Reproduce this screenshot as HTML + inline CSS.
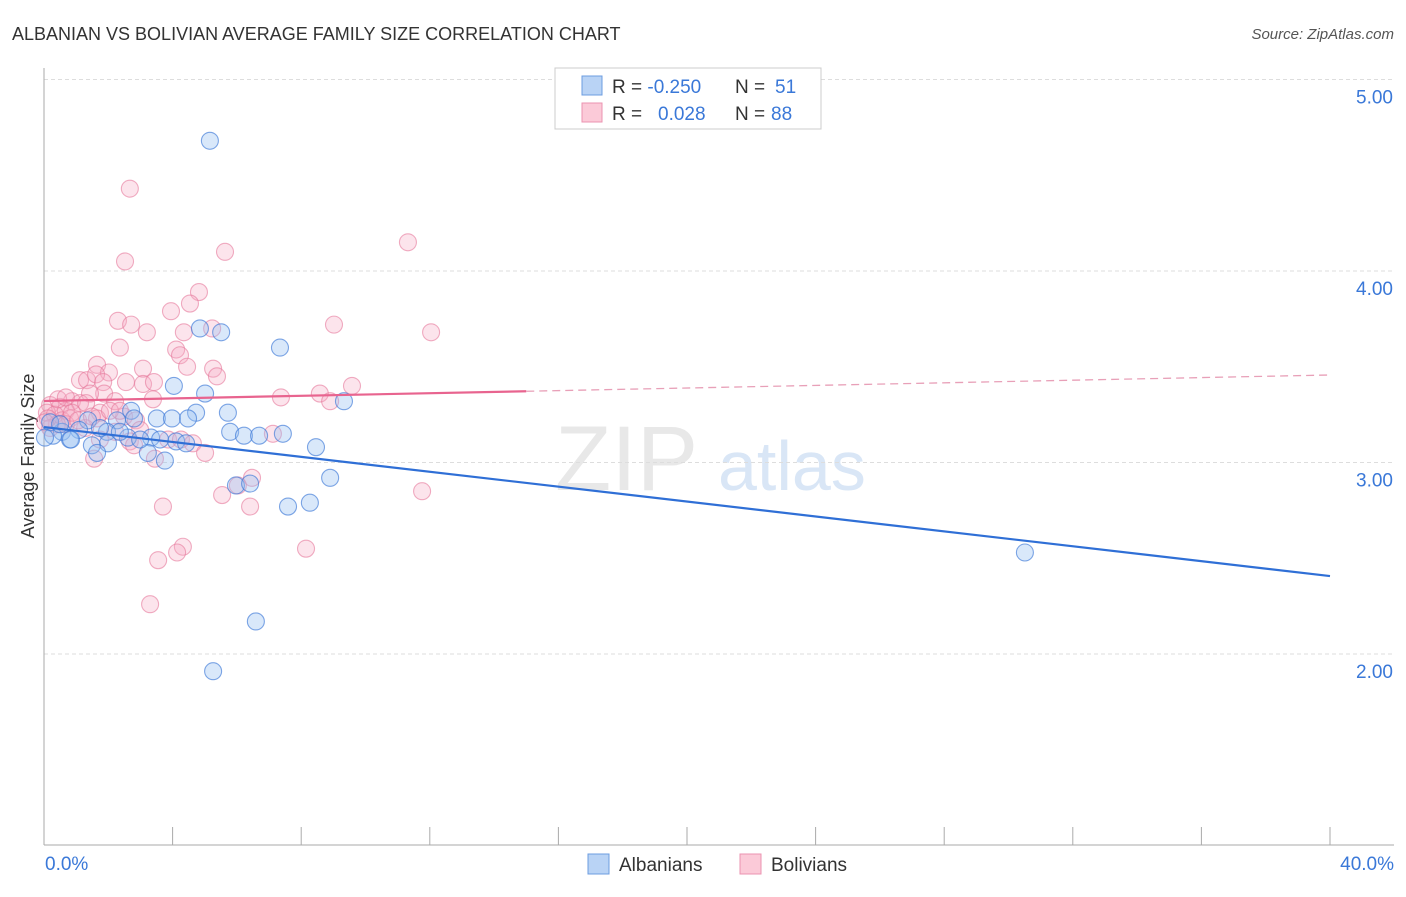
<!DOCTYPE html>
<html><head><meta charset="utf-8"><style>
body{margin:0;background:#fff;font-family:"Liberation Sans",sans-serif;}
svg text{font-family:"Liberation Sans",sans-serif;}
</style></head><body>
<svg id="c" width="1406" height="892">
<text x="12" y="40" font-size="18" fill="#333">ALBANIAN VS BOLIVIAN AVERAGE FAMILY SIZE CORRELATION CHART</text>
<text x="1394" y="39" font-size="15" fill="#555" font-style="italic" text-anchor="end">Source: ZipAtlas.com</text>
<text x="0" y="0" font-size="18" fill="#333" text-anchor="middle" transform="translate(34,456) rotate(-90)">Average Family Size</text>
<g><text x="555" y="490" font-size="92" fill="#e8e8e8" font-family="Liberation Serif">ZIP</text><text x="718" y="490" font-size="70" fill="#d9e6f6">atlas</text></g>
<g id="grid"></g><g id="axes"></g><g id="pts"></g><g id="lines"></g>
<g>
<rect x="555" y="68" width="266" height="61" fill="#fff" stroke="#ccc"/>
<rect x="582" y="76" width="20" height="19" fill="#b9d3f5" stroke="#6c9de0"/>
<rect x="582" y="103" width="20" height="19" fill="#fbcad8" stroke="#eb93b0"/>
<text x="612" y="93" font-size="19" fill="#333">R = <tspan fill="#3a78d8">-0.250</tspan><tspan x="735">N = </tspan><tspan fill="#3a78d8" x="775">51</tspan></text>
<text x="612" y="120" font-size="19" fill="#333">R = <tspan fill="#3a78d8" x="658">0.028</tspan><tspan x="735">N = </tspan><tspan fill="#3a78d8" x="771">88</tspan></text>
</g>
<g>
<rect x="588" y="854" width="21" height="20" fill="#b9d3f5" stroke="#6c9de0"/><text x="619" y="871" font-size="19" fill="#333">Albanians</text>
<rect x="740" y="854" width="21" height="20" fill="#fbcad8" stroke="#eb93b0"/><text x="771" y="871" font-size="19" fill="#333">Bolivians</text>
</g>
<text x="45" y="870" font-size="19" fill="#3a78d8">0.0%</text>
<text x="1394" y="870" font-size="19" fill="#3a78d8" text-anchor="end">40.0%</text>
</svg>
<script>
const yTicks=[5,4,3,2];
const yTickLabels=["5.00","4.00","3.00","2.00"];
const blueX=[5.16,4.85,5.51,7.34,4.04,5.01,9.33,4.73,5.72,3.51,3.98,4.48,2.71,2.27,2.80,1.37,1.09,0.56,0.28,0.81,1.96,5.79,6.22,6.69,7.43,3.33,4.11,4.42,2.61,1.99,1.49,1.65,3.23,3.76,8.46,8.90,5.97,6.41,7.59,8.27,30.51,6.59,5.26,0.19,0.50,0.03,0.84,2.99,2.36,3.61,1.74];
const blueY=[4.68,3.70,3.68,3.60,3.40,3.36,3.32,3.26,3.26,3.23,3.23,3.23,3.27,3.22,3.23,3.22,3.17,3.16,3.14,3.12,3.16,3.16,3.14,3.14,3.15,3.13,3.11,3.10,3.13,3.10,3.09,3.05,3.05,3.01,3.08,2.92,2.88,2.89,2.77,2.79,2.53,2.17,1.91,3.21,3.20,3.13,3.12,3.12,3.16,3.12,3.18];
const pinkX=[2.67,11.32,2.52,5.63,4.82,4.54,3.95,2.30,2.71,3.20,4.35,5.23,9.02,12.04,2.36,4.11,4.23,1.65,4.45,5.26,3.08,2.02,5.38,1.12,1.34,1.62,1.84,2.55,3.08,3.42,9.58,8.58,8.90,7.37,1.87,1.43,0.87,1.12,1.31,2.21,3.39,0.19,0.50,0.68,0.09,0.34,0.56,0.81,1.74,1.65,2.49,2.86,2.99,0.40,0.19,0.12,0.68,1.28,2.21,2.67,2.80,3.86,4.26,4.63,5.01,3.45,1.56,7.12,6.47,6.03,5.54,6.41,3.70,11.76,8.15,4.32,4.14,3.55,3.30,0.87,1.06,2.05,1.49,0.03,0.44,0.68,2.36,1.74];
const pinkY=[4.43,4.15,4.05,4.10,3.89,3.83,3.79,3.74,3.72,3.68,3.68,3.70,3.72,3.68,3.60,3.59,3.56,3.51,3.50,3.49,3.49,3.47,3.45,3.43,3.43,3.46,3.42,3.42,3.41,3.42,3.40,3.36,3.32,3.34,3.36,3.36,3.32,3.31,3.31,3.32,3.33,3.30,3.29,3.27,3.26,3.25,3.22,3.23,3.26,3.23,3.24,3.22,3.17,3.20,3.18,3.23,3.20,3.18,3.16,3.11,3.09,3.12,3.12,3.10,3.05,3.02,3.02,3.15,2.92,2.88,2.83,2.77,2.77,2.85,2.55,2.56,2.53,2.49,2.26,3.26,3.22,3.27,3.24,3.21,3.33,3.34,3.27,3.12];
const blueTrend=[3.185,2.407];
const pinkTrend=[3.321,3.457];
const NS="http://www.w3.org/2000/svg";
const sx=v=>44+v*32.15, sy=v=>79.5+(5-v)*191.5;
function mk(t,a,p){const e=document.createElementNS(NS,t);for(const k in a)e.setAttribute(k,a[k]);p.appendChild(e);return e;}
const grid=document.getElementById('grid'),axes=document.getElementById('axes'),pts=document.getElementById('pts'),lines=document.getElementById('lines');
yTicks.forEach((v,i)=>{
 const l=mk('line',{x1:44,x2:1394,y1:sy(v),y2:sy(v),stroke:'#ddd','stroke-dasharray':'4,3'},grid);
 
 
 const t=mk('text',{x:1393,y:sy(v)+24,'font-size':19,fill:'#3a78d8','text-anchor':'end'},axes);
 t.textContent=yTickLabels[i];
 
 
});
const ya=mk('line',{x1:44,x2:44,y1:68,y2:845,stroke:'#aaa'},axes);


const xa=mk('line',{x1:44,x2:1394,y1:845,y2:845,stroke:'#aaa'},axes);


for(let i=0;i<=10;i++){const t=mk('line',{x1:sx(i*4),x2:sx(i*4),y1:827,y2:845,stroke:'#aaa'},axes);
 
 }
function dots(X,Y,fill,stroke,name){X.forEach((x,i)=>{const c=mk('circle',{cx:sx(x),cy:sy(Y[i]),r:8.5,fill:fill,stroke:stroke,'stroke-width':1.1},pts);
 
 });}
dots(pinkX,pinkY,'rgba(246,170,196,0.32)','rgba(230,120,155,0.6)','bolivian-point');
dots(blueX,blueY,'rgba(150,190,240,0.36)','rgba(60,120,215,0.65)','albanian-point');
const bl=mk('line',{x1:sx(0),y1:sy(blueTrend[0]),x2:sx(40),y2:sy(blueTrend[1]),stroke:'#2f6fd6','stroke-width':2.2},lines);


const pm=pinkTrend[0]+(pinkTrend[1]-pinkTrend[0])*15/40;
const pl=mk('line',{x1:sx(0),y1:sy(pinkTrend[0]),x2:sx(15),y2:sy(pm),stroke:'#e8648f','stroke-width':2.2},lines);


const pd=mk('line',{x1:sx(15),y1:sy(pm),x2:sx(40),y2:sy(pinkTrend[1]),stroke:'#e8a0b8','stroke-width':1.3,'stroke-dasharray':'8,5'},lines);


</script>
</body></html>
